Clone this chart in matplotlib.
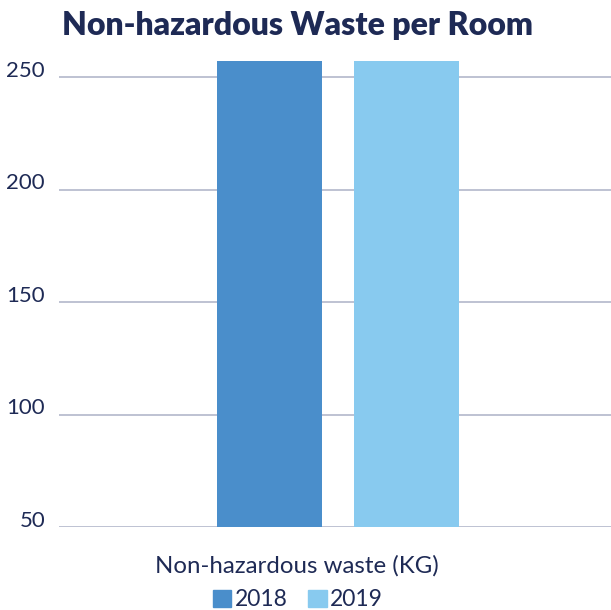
import matplotlib.pyplot as plt
import matplotlib.transforms as mtransforms
from matplotlib.patches import Patch

plt.rcParams['font.family'] = ['Lato', 'DejaVu Sans']

category = 'Non-hazardous waste (KG)'
years = ['2018', '2019']
values = [257, 257]
colors = ['#4a8ecb', '#88caef']
yticks = [50, 100, 150, 200, 250]

navy = '#1e2a55'

fig = plt.figure(figsize=(6.11, 6.10), dpi=100)
ax = fig.add_axes([59/611, 83/610, 552/611, (527-54.5)/610])

# axis spans 0..1, bar size from the reference's pixel widths
width = 105/552
gap = 32/552
mid = 0.5 + 3/552
xs = [mid - 0.5*width - 0.5*gap, mid + 0.5*width + 0.5*gap]
for x, v, c in zip(xs, values, colors):
    ax.bar(x, v - 50, bottom=50, width=width, color=c, zorder=3)

ax.set_xlim(0, 1)
ax.set_ylim(50, 260)
ax.set_yticks(yticks)
ax.set_xticks([])
ax.yaxis.grid(True, color='#b3b8cb', linewidth=1.2, zorder=0)
for s in ax.spines.values():
    s.set_visible(False)
ax.tick_params(axis='y', length=0, pad=10, labelsize=16, labelcolor=navy)
off = mtransforms.ScaledTranslation(0, 6/72, fig.dpi_scale_trans)
for lab in ax.get_yticklabels():
    lab.set_transform(lab.get_transform() + off)

fig.text(62/611, 1 - 26/610, 'Non-hazardous Waste per Room', fontsize=23,
         fontweight='heavy', color=navy, va='center', ha='left')
fig.text(297/611, 1 - 566/610, category, fontsize=17.3, color=navy,
         ha='center', va='center')

handles = [Patch(color=c, label=y) for c, y in zip(colors, years)]
fig.legend(handles=handles, loc='center', bbox_to_anchor=(298/611, 1 - 600/610),
           ncol=2, frameon=False, fontsize=16.5, labelcolor=navy,
           handlelength=0.8, handleheight=0.8, handletextpad=0.15,
           columnspacing=0.9, borderaxespad=0, borderpad=0)

fig.savefig('out.png', dpi=100)
